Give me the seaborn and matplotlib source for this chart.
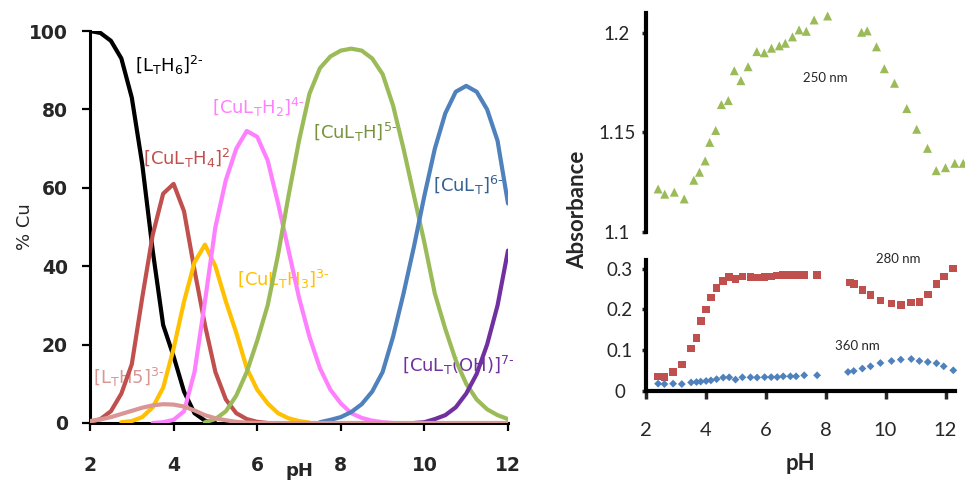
import numpy as np
import pandas as pd
import matplotlib
matplotlib.use("Agg")
import matplotlib.pyplot as plt
import seaborn as sns

# ---------------- data: left panel (species distribution, % Cu) ----------------
ph_grid = [2.0, 2.25, 2.5, 2.75, 3.0, 3.25, 3.5, 3.75, 4.0, 4.25, 4.5, 4.75, 5.0,
           5.25, 5.5, 5.75, 6.0, 6.25, 6.5, 6.75, 7.0, 7.25, 7.5, 7.75, 8.0, 8.25,
           8.5, 8.75, 9.0, 9.25, 9.5, 9.75, 10.0, 10.25, 10.5, 10.75, 11.0, 11.25,
           11.5, 11.75, 12.0]
N = None
LTH6 = [100, 99.5, 97.5, 93, 83, 66, 44, 25, 17, 8, 2.5, 0.6, 0] + [N] * 28
CuLTH4 = [0.3, 1, 3, 7.5, 15, 32, 48, 58.5, 61, 54, 39, 25, 13, 6, 2.5, 1, 0.3, 0] + [N] * 23
CuLTH3 = [N] * 3 + [0.2, 0.5, 1.5, 4, 9, 19, 31, 41, 45.5, 40, 31, 23, 14, 8.5, 5, 2.5,
                    1.2, 0.5, 0.1] + [N] * 19
CuLTH2 = [N] * 6 + [0, 0.2, 0.8, 3, 13, 31, 50, 62, 70, 74.5, 73, 67, 56, 44, 32, 22, 14,
                    8.5, 5, 2.5, 1.3, 0.6, 0.2, 0] + [N] * 11
CuLTH = [N] * 11 + [0.2, 1, 3, 7, 13, 21, 30, 43, 58, 72, 84, 90.5, 93.5, 95, 95.5, 95,
                    93, 89, 81, 70, 58, 46, 33, 24, 16, 10, 6, 3.5, 2, 1]
CuLT = [N] * 22 + [0.2, 0.8, 1.5, 2.8, 4.8, 8, 13, 22, 33, 45, 58, 70, 79, 84.5, 86, 84.5,
                   80, 72, 56]
CuLTOH = [N] * 31 + [0, 0.2, 1, 2, 4, 7.5, 12.5, 20, 30, 44]
LTH5 = [0.5, 0.9, 1.5, 2.3, 3.1, 3.9, 4.5, 4.8, 4.7, 4.2, 3.2, 2.0, 1.2, 0.7, 0.3, 0.1] + [0] * 25

species_names = ["LTH6", "CuLTH4", "CuLTH3", "CuLTH2", "CuLTH", "CuLT", "CuLTOH", "LTH5"]
species_vals = [LTH6, CuLTH4, CuLTH3, CuLTH2, CuLTH, CuLT, CuLTOH, LTH5]
line_colors = ["#000000", "#C0504D", "#FFC000", "#FF80FF", "#9BBB59", "#4F81BD",
               "#7030A0", "#D99694"]

HY = "\u2010"
species_labels = [r"[L$_\mathregular{T}$H$_\mathregular{6}$]$^\mathregular{2" + HY + "}$",
                  r"[CuL$_\mathregular{T}$H$_\mathregular{4}$]$^\mathregular{2}$",
                  r"[CuL$_\mathregular{T}$H$_\mathregular{3}$]$^\mathregular{3" + HY + "}$",
                  r"[CuL$_\mathregular{T}$H$_\mathregular{2}$]$^\mathregular{4" + HY + "}$",
                  r"[CuL$_\mathregular{T}$H]$^\mathregular{5" + HY + "}$",
                  r"[CuL$_\mathregular{T}$]$^\mathregular{6" + HY + "}$",
                  r"[CuL$_\mathregular{T}$(OH)]$^\mathregular{7" + HY + "}$",
                  r"[L$_\mathregular{T}$H5]$^\mathregular{3" + HY + "}$"]
label_colors = ["#000000", "#C0504D", "#FFC000", "#FF80FF", "#77933C", "#376092",
                "#7030A0", "#D99694"]
label_x = [3.08, 3.27, 5.52, 4.92, 7.33, 10.2, 9.46, 2.07]
label_y = [91.3, 67.6, 36.5, 80.6, 74.0, 60.7, 14.8, 11.5]

# ---------------- data: right panel (absorbance) ----------------
ph_250 = [2.42, 2.64, 2.96, 3.29, 3.61, 3.80, 3.99, 4.14, 4.34, 4.53, 4.76, 4.96, 5.18,
          5.42, 5.71, 5.96, 6.20, 6.46, 6.66, 6.90, 7.12, 7.36, 7.62, 8.07, 9.20, 9.39,
          9.70, 9.96, 10.30, 10.71, 11.04, 11.40, 11.69, 12.00, 12.31, 12.59]
abs_250 = [1.1216, 1.1190, 1.1200, 1.1166, 1.1260, 1.1300, 1.1357, 1.1450, 1.1510,
           1.1640, 1.1660, 1.1810, 1.1760, 1.1830, 1.1906, 1.1900, 1.1923, 1.1935,
           1.1948, 1.1980, 1.2015, 1.2008, 1.2065, 1.2085, 1.2003, 1.2010, 1.1930,
           1.1820, 1.1747, 1.1620, 1.1516, 1.1420, 1.1308, 1.1323, 1.1345, 1.1345]

ph_280 = [2.42, 2.63, 2.92, 3.21, 3.52, 3.70, 3.84, 4.02, 4.18, 4.37, 4.59, 4.79, 5.00,
          5.23, 5.50, 5.72, 5.97, 6.19, 6.39, 6.59, 6.83, 7.02, 7.29, 7.72, 8.81, 8.94,
          9.23, 9.50, 9.83, 10.20, 10.51, 10.86, 11.13, 11.41, 11.70, 11.94, 12.26]
abs_280 = [0.036, 0.034, 0.046, 0.065, 0.104, 0.130, 0.171, 0.200, 0.229, 0.253, 0.270,
           0.280, 0.275, 0.281, 0.280, 0.278, 0.280, 0.281, 0.283, 0.284, 0.284, 0.284,
           0.284, 0.284, 0.266, 0.262, 0.247, 0.235, 0.222, 0.214, 0.210, 0.217, 0.218,
           0.236, 0.262, 0.281, 0.300]

ph_360 = [2.42, 2.63, 2.92, 3.21, 3.52, 3.70, 3.84, 4.02, 4.18, 4.37, 4.59, 4.79, 5.00,
          5.23, 5.50, 5.72, 5.97, 6.19, 6.39, 6.59, 6.83, 7.02, 7.29, 7.72, 8.75, 8.94,
          9.23, 9.50, 9.83, 10.20, 10.51, 10.86, 11.13, 11.41, 11.70, 11.94, 12.26]
abs_360 = [0.018, 0.017, 0.018, 0.017, 0.021, 0.022, 0.023, 0.0245, 0.026, 0.029, 0.033,
           0.0336, 0.028, 0.0336, 0.0336, 0.033, 0.034, 0.034, 0.034, 0.036, 0.036, 0.036,
           0.0385, 0.0385, 0.0466, 0.049, 0.055, 0.0605, 0.0686, 0.0735, 0.077, 0.0784,
           0.0735, 0.071, 0.068, 0.0605, 0.0507]

left_xticks = [2, 4, 6, 8, 10, 12]
left_yticks = [0, 20, 40, 60, 80, 100]
top_yticks = [1.1, 1.15, 1.2]
top_yticklabels = ["1.1", "1.15", "1.2"]
bot_yticks = [0, 0.1, 0.2, 0.3]
bot_yticklabels = ["0", "0.1", "0.2", "0.3"]

# ---------------- build tables ----------------
rows = []
for name, vals in zip(species_names, species_vals):
    for p, v in zip(ph_grid, vals):
        if v is not None:
            rows.append((p, v, name))
dist = pd.DataFrame(rows, columns=["pH", "pct", "species"])

absdf = pd.concat([
    pd.DataFrame({"pH": ph_250, "A": abs_250, "wl": "250 nm"}),
    pd.DataFrame({"pH": ph_280, "A": abs_280, "wl": "280 nm"}),
    pd.DataFrame({"pH": ph_360, "A": abs_360, "wl": "360 nm"}),
], ignore_index=True)

# ---------------- figure ----------------
sns.set_style("white")
plt.rcParams["font.family"] = ["DejaVu Sans"]
W, H = 965, 484
fig = plt.figure(figsize=(W / 100, H / 100), dpi=100)

# ---- left panel ----
ax1 = fig.add_axes([90 / W, 1 - 423 / H, 418 / W, 392 / H])
sns.lineplot(data=dist, x="pH", y="pct", hue="species", hue_order=species_names,
             palette=dict(zip(species_names, line_colors)), estimator=None, sort=False,
             linewidth=3.0, legend=False, ax=ax1, zorder=3)
ax1.set_xlim(2, 12)
ax1.set_ylim(0, 100)
ax1.set_xticks(left_xticks)
ax1.set_yticks(left_yticks)
for s in ["top", "right"]:
    ax1.spines[s].set_visible(False)
for s in ["left", "bottom"]:
    ax1.spines[s].set_linewidth(2.2)
    ax1.spines[s].set_color("black")
ax1.tick_params(axis="both", direction="out", length=6, width=1.6, color="black")
ax1.tick_params(axis="y", pad=10, left=True)
ax1.tick_params(axis="x", pad=18, bottom=True)
for lab in ax1.get_xticklabels() + ax1.get_yticklabels():
    lab.set_fontweight("bold")
    lab.set_fontsize(13.5)
ax1.set_xlabel("pH", fontsize=13, fontweight="bold")
ax1.xaxis.set_label_coords(0.5, -0.1)
ax1.set_ylabel("% Cu", fontsize=13)
ax1.yaxis.set_label_coords(-0.135, 0.5)
for lab, c, x, y in zip(species_labels, label_colors, label_x, label_y):
    ax1.text(x, y, lab, color=c, fontsize=13, ha="left", va="center", zorder=1)

# ---- right panel ----
xmax_r = 2 + (955 - 645.5) / 30.0
axT = fig.add_axes([645.5 / W, 1 - 232 / H, 309.5 / W, 219 / H])
axB = fig.add_axes([645.5 / W, 1 - 391 / H, 309.5 / W, 131 / H])

sns.scatterplot(data=absdf[absdf.wl == "250 nm"], x="pH", y="A", marker="^", s=42,
                color="#9BBB59", edgecolor="none", ax=axT, clip_on=False)
sns.scatterplot(data=absdf[absdf.wl == "280 nm"], x="pH", y="A", marker="s", s=30,
                color="#C0504D", edgecolor="none", ax=axB, clip_on=False)
sns.scatterplot(data=absdf[absdf.wl == "360 nm"], x="pH", y="A", marker="D", s=16,
                color="#4F81BD", edgecolor="none", ax=axB, clip_on=False)

rfont = "Lato"
for ax in (axT, axB):
    ax.set_xlim(2, xmax_r)
    for s in ["top", "right"]:
        ax.spines[s].set_visible(False)
    ax.spines["left"].set_linewidth(3.0)
    ax.spines["left"].set_color("black")
    ax.set_facecolor("none")

axT.set_ylim(1.1, 1.21)
axT.spines["bottom"].set_visible(False)
axT.set_xticks([])
axT.set_yticks(top_yticks)
axT.set_yticklabels(top_yticklabels, family=rfont, fontsize=13.5, ha="center")
axT.tick_params(axis="y", direction="out", length=3, width=2.5, pad=17.5, left=True)
axT.set_xlabel("")
axT.set_ylabel("Absorbance", family=rfont, fontsize=16, fontweight="bold")
axT.yaxis.set_label_coords(-0.185, 0.1)
axT.text(7.98, 1.1774, "250 nm", family=rfont, fontsize=9.5, ha="center", va="center")

axB.set_ylim(0, 0.321)
axB.spines["bottom"].set_linewidth(3.0)
axB.spines["bottom"].set_color("black")
axB.set_xticks(left_xticks)
axB.set_xticklabels([str(t) for t in left_xticks], family=rfont, fontsize=14.5)
axB.set_yticks(bot_yticks)
axB.set_yticklabels(bot_yticklabels, family=rfont, fontsize=13.5, ha="center")
axB.tick_params(axis="y", direction="out", length=3, width=2.5, pad=15.5, left=True)
axB.tick_params(axis="x", direction="out", length=6, width=2.5, pad=16, bottom=True)
axB.set_ylabel("")
axB.set_xlabel("pH", family=rfont, fontsize=16, fontweight="bold")
axB.xaxis.set_label_coords(0.5, -0.47)
axB.text(10.42, 0.3235, "280 nm", family=rfont, fontsize=9.5, ha="center", va="center",
         clip_on=False)
axB.text(9.05, 0.110, "360 nm", family=rfont, fontsize=9.5, ha="center", va="center")

fig.savefig("out.png", dpi=100)
